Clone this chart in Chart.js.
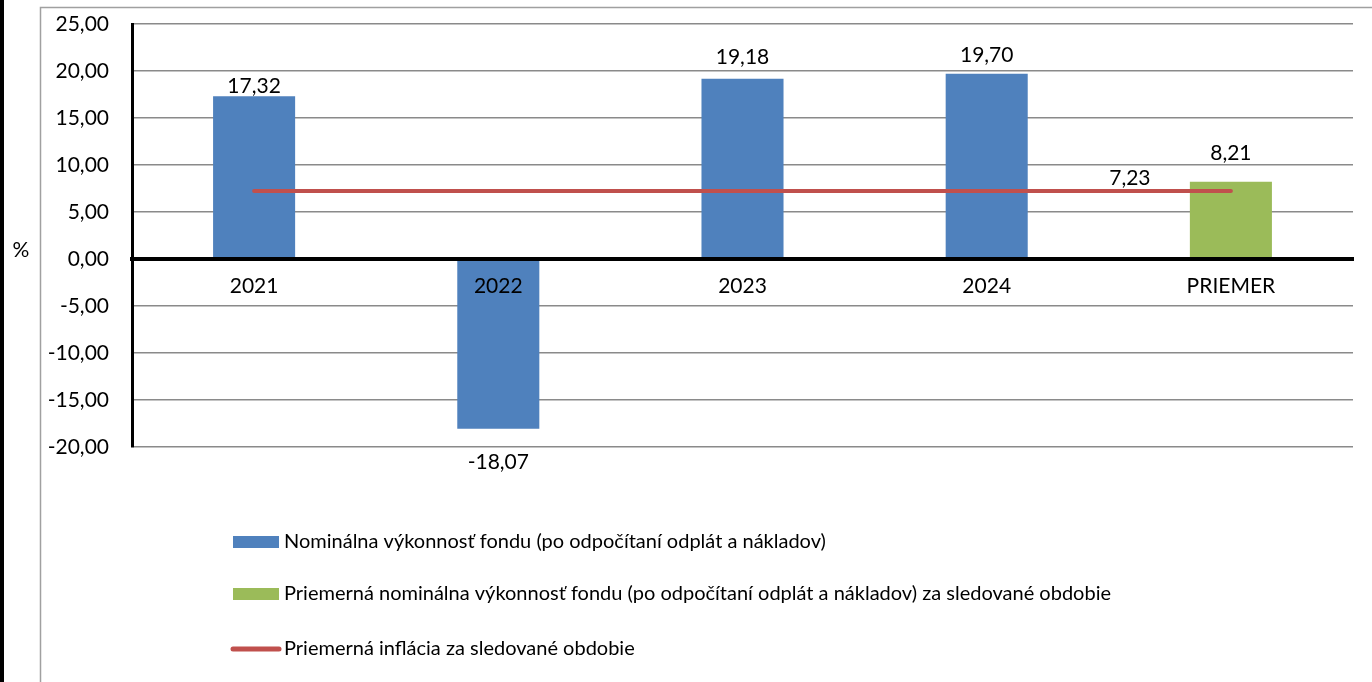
<!DOCTYPE html>
<html lang="sk">
<head>
<meta charset="UTF-8">
<title>Výkonnosť fondu</title>
<script src="https://cdn.jsdelivr.net/npm/chart.js"></script>
<style>
    html, body { margin: 0; padding: 0; background: #fff; }
    #wrap { width: 1372px; height: 682px; }
</style>
</head>
<body>
<div id="wrap"><canvas id="myChart" width="1372" height="682"></canvas></div>
<script>
// data
var categories = ['2021', '2022', '2023', '2024', 'PRIEMER'];
var fundReturns = [17.32, -18.07, 19.18, 19.70, null];
var averageReturn = [null, null, null, null, 8.21];
var averageInflation = [7.23, 7.23, 7.23, 7.23, 7.23];
var yMin = -20, yMax = 25, yStep = 5;

var seriesNames = [
    'Nominálna výkonnosť fondu (po odpočítaní odplát a nákladov)',
    'Priemerná nominálna výkonnosť fondu (po odpočítaní odplát a nákladov) za sledované obdobie',
    'Priemerná inflácia za sledované obdobie'
];

var BLUE = '#4F81BD', GREEN = '#9BBB59', RED = '#C0504D';
var FONT = 'Lato, "Open Sans", sans-serif';

// distance of the value label from the end of each bar (px)
var barLabelGap = [10, 33, 21, 19, 29];

function fmt(v) {
    return v.toFixed(2).replace('.', ',');
}

var decorPlugin = {
    id: 'decor',
    beforeDraw: function (chart) {
        var ctx = chart.ctx;
        ctx.save();
        ctx.fillStyle = '#fff';
        ctx.fillRect(0, 0, chart.width, chart.height);
        // black edge on the left
        ctx.fillStyle = '#000';
        ctx.fillRect(0, 0, 4, chart.height);
        // grey chart frame
        ctx.strokeStyle = '#a0a0a0';
        ctx.lineWidth = 1.5;
        ctx.beginPath();
        ctx.moveTo(40.5, chart.height + 2);
        ctx.lineTo(40.5, 7.5);
        ctx.lineTo(chart.width + 2, 7.5);
        ctx.stroke();
        ctx.restore();
    },
    afterDatasetsDraw: function (chart) {
        var ctx = chart.ctx;
        ctx.save();
        ctx.font = '21px ' + FONT;
        ctx.fillStyle = '#000';
        ctx.textAlign = 'center';
        ctx.textBaseline = 'middle';
        [0, 1].forEach(function (di) {
            var meta = chart.getDatasetMeta(di);
            chart.data.datasets[di].data.forEach(function (v, i) {
                if (v === null) return;
                var el = meta.data[i];
                var y = v >= 0 ? el.y - barLabelGap[i] : el.y + barLabelGap[i];
                ctx.fillText(fmt(v), el.x, y);
            });
        });
        // inflation label only at the last point
        var lm = chart.getDatasetMeta(2);
        var last = lm.data[lm.data.length - 1];
        ctx.fillText(fmt(averageInflation[averageInflation.length - 1]), last.x - 101, last.y - 13);
        ctx.restore();
    },
    afterDraw: function (chart) {
        var ctx = chart.ctx;
        ctx.save();
        ctx.fillStyle = '#000';
        ctx.font = '21px ' + FONT;
        ctx.textAlign = 'center';
        ctx.textBaseline = 'middle';
        ctx.fillText('%', 21, 250);

        // legend
        ctx.font = '20px ' + FONT;
        ctx.textAlign = 'left';
        chart.data.datasets.forEach(function (ds, i) {
            var y = 542 + i * 52;
            if (ds.type === 'line') {
                ctx.strokeStyle = ds.borderColor;
                ctx.lineWidth = 5;
                ctx.lineCap = 'round';
                ctx.beginPath();
                ctx.moveTo(233, y + 3);
                ctx.lineTo(279, y + 3);
                ctx.stroke();
            } else {
                ctx.fillStyle = ds.backgroundColor;
                ctx.fillRect(233, y - 6, 46, 12);
            }
            ctx.fillStyle = '#000';
            ctx.fillText(ds.label, 284, ds.type === 'line' ? y + 3 : y);
        });
        ctx.restore();
    }
};

var ctx = document.getElementById('myChart').getContext('2d');
var myChart = new Chart(ctx, {
    data: {
        labels: categories,
        datasets: [{
            type: 'bar',
            label: seriesNames[0],
            data: fundReturns,
            backgroundColor: BLUE,
            grouped: false,
            barPercentage: 0.336,
            categoryPercentage: 1,
            order: 2
        }, {
            type: 'bar',
            label: seriesNames[1],
            data: averageReturn,
            backgroundColor: GREEN,
            grouped: false,
            barPercentage: 0.336,
            categoryPercentage: 1,
            order: 1
        }, {
            type: 'line',
            label: seriesNames[2],
            data: averageInflation,
            borderColor: RED,
            backgroundColor: RED,
            borderWidth: 4,
            borderCapStyle: 'round',
            pointRadius: 0,
            pointHoverRadius: 0,
            fill: false,
            order: 0
        }]
    },
    options: {
        responsive: false,
        animation: false,
        events: [],
        layout: {
            padding: { left: 40, top: 24, right: 19, bottom: 235 }
        },
        plugins: {
            legend: { display: false },
            tooltip: { enabled: false }
        },
        scales: {
            x: {
                type: 'category',
                position: { y: 0 },
                grid: { display: false, drawTicks: false, z: 1 },
                border: { display: true, color: '#000', width: 4, z: 1 },
                ticks: {
                    z: 1,
                    color: '#000',
                    font: { family: FONT, size: 21 },
                    padding: 15,
                    maxRotation: 0,
                    autoSkip: false
                }
            },
            y: {
                min: yMin,
                max: yMax,
                ticks: {
                    stepSize: yStep,
                    color: '#000',
                    font: { family: FONT, size: 21 },
                    padding: 10,
                    callback: function (v) { return fmt(v); }
                },
                grid: {
                    color: '#8a8a8a',
                    lineWidth: 1.5,
                    drawTicks: true,
                    tickLength: 13,
                    tickColor: 'rgba(0,0,0,0)'
                },
                border: { color: '#000', width: 3, z: 1 },
                afterFit: function (scale) { scale.width = 92; }
            }
        }
    },
    plugins: [decorPlugin]
});
</script>
</body>
</html>
